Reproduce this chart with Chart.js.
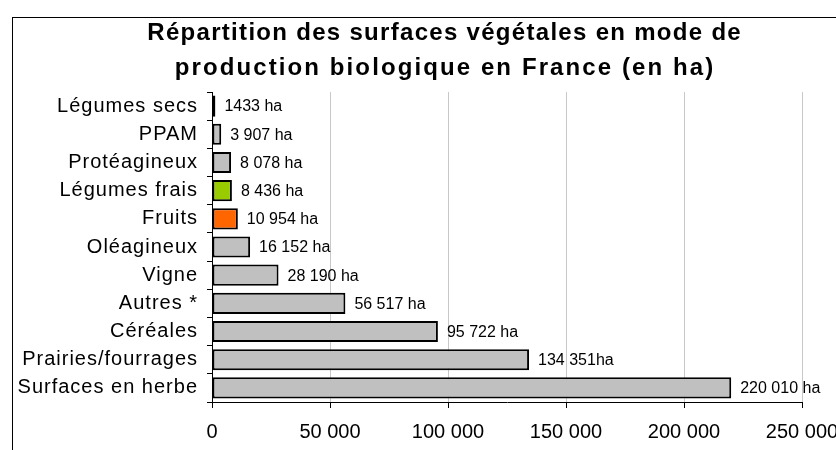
<!DOCTYPE html>
<html>
<head>
<meta charset="utf-8">
<script src="https://cdn.jsdelivr.net/npm/chart.js@4/dist/chart.umd.min.js"></script>
<style>
  html, body { margin: 0; padding: 0; background: #fff; overflow: hidden; }
  #wrap { position: relative; width: 836px; height: 450px; overflow: hidden; }
  #frame { position: absolute; left: 12px; top: 17px; width: 900px; height: 500px; border: 1px solid #000; box-sizing: border-box; }
  canvas { position: absolute; left: 0; top: 0; }
</style>
</head>
<body>
<div id="wrap">
  <div id="frame"></div>
  <canvas id="c" width="836" height="450"></canvas>
</div>
<script>
const categories = ['Légumes secs', 'PPAM', 'Protéagineux', 'Légumes frais', 'Fruits', 'Oléagineux', 'Vigne', 'Autres *', 'Céréales', 'Prairies/fourrages', 'Surfaces en herbe'];
const surfaces = [1433, 3907, 8078, 8436, 10954, 16152, 28190, 56517, 95722, 134351, 220010];
const valueLabels = ['1433 ha', '3 907 ha', '8 078 ha', '8 436 ha', '10 954 ha', '16 152 ha', '28 190 ha', '56 517 ha', '95 722 ha', '134 351ha', '220 010 ha'];
const titleLines = ['Répartition des surfaces végétales en mode de', 'production biologique en France (en ha)'];
const xMin = 0, xMax = 250000, xStep = 50000;

const GRAY = '#c0c0c0', GREEN = '#99cc00', ORANGE = '#ff6600';
const barColors = categories.map(c => c === 'Légumes frais' ? GREEN : (c === 'Fruits' ? ORANGE : GRAY));
const FONT = 'Liberation Sans, Arial, sans-serif';

function fmt(v) { return String(v).replace(/\B(?=(\d{3})+(?!\d))/g, ' '); }

const titlePlugin = {
  id: 'excelTitle',
  afterDraw(chart) {
    const ctx = chart.ctx;
    ctx.save();
    ctx.font = 'bold 24px ' + FONT;
    ctx.fillStyle = '#000';
    ctx.textAlign = 'center';
    ctx.textBaseline = 'middle';
    const spacing = [1.3, 2.1];
    const ys = [33, 68];
    titleLines.forEach((line, i) => {
      ctx.letterSpacing = spacing[i] + 'px';
      ctx.fillText(line, 444 + spacing[i] / 2, ys[i]);
    });
    ctx.restore();
  }
};

const valueLabelPlugin = {
  id: 'valueLabels',
  afterDatasetsDraw(chart) {
    const ctx = chart.ctx;
    const meta = chart.getDatasetMeta(0);
    ctx.save();
    ctx.font = '16px ' + FONT;
    ctx.fillStyle = '#000';
    ctx.textAlign = 'left';
    ctx.textBaseline = 'middle';
    meta.data.forEach((bar, i) => {
      ctx.fillText(valueLabels[i], bar.x + 9, bar.y + 1);
    });
    ctx.restore();
  }
};

function patchYLabels(s) {
  s.width = 212;
  s.paddingTop = 0;
  s.paddingBottom = 0;
  if (!s._lsPatched) {
    const orig = s.drawLabels;
    s.drawLabels = function (ca) {
      const ctx = this.ctx;
      ctx.save();
      ctx.letterSpacing = '1px';
      orig.call(this, ca);
      ctx.restore();
    };
    s._lsPatched = true;
  }
}

new Chart(document.getElementById('c'), {
  type: 'bar',
  data: {
    labels: categories,
    datasets: [{
      data: surfaces,
      backgroundColor: barColors,
      borderColor: '#000',
      borderWidth: 2,
      borderSkipped: false,
      barPercentage: 0.75,
      categoryPercentage: 1
    }]
  },
  options: {
    indexAxis: 'y',
    responsive: false,
    animation: false,
    devicePixelRatio: 1,
    layout: { padding: { left: 0, right: 34, top: 92, bottom: 0 } },
    plugins: {
      legend: { display: false },
      tooltip: { enabled: false },
      title: { display: false }
    },
    scales: {
      x: {
        min: xMin, max: xMax,
        ticks: { stepSize: xStep, color: '#000', font: { family: FONT, size: 20 }, padding: 12, maxRotation: 0, callback: v => fmt(v) },
        grid: { color: '#c8c8c8', lineWidth: 1, tickColor: '#000', tickLength: 6 },
        border: { display: true, color: '#000', width: 1 },
        afterFit: s => { s.height = 48; s.paddingLeft = 0; s.paddingRight = 0; }
      },
      y: {
        ticks: { color: '#000', font: { family: FONT, size: 20 }, padding: 9 },
        grid: { display: true, drawOnChartArea: false, color: '#000', tickLength: 5, offset: true },
        border: { display: true, color: '#000', width: 1 },
        afterFit: patchYLabels
      }
    }
  },
  plugins: [valueLabelPlugin, titlePlugin]
});
</script>
</body>
</html>
